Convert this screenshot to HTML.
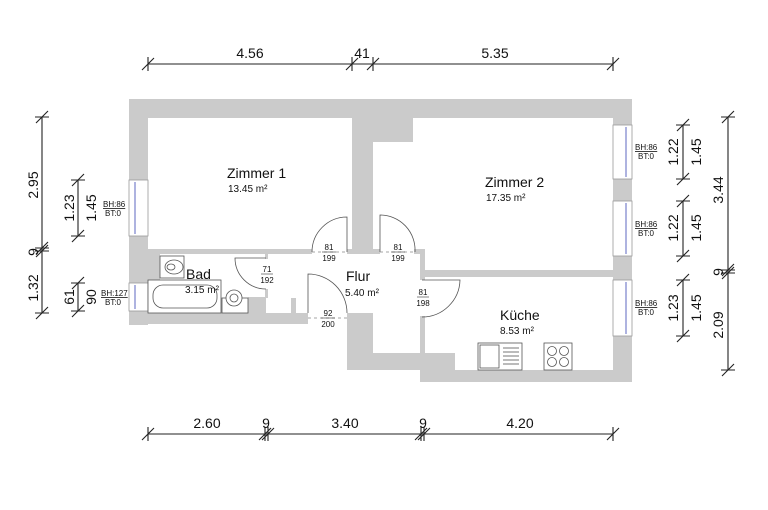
<!DOCTYPE html>
<html><head><meta charset="utf-8"><style>
html,body{margin:0;padding:0;background:#fff;}
svg{display:block}
text{font-family:"Liberation Sans",Arial,sans-serif;fill:#111}
</style></head><body>
<svg width="768" height="510" viewBox="0 0 768 510" xmlns="http://www.w3.org/2000/svg">
<!-- walls -->
<g fill="#cbcbcb" stroke="none">
<rect x="129" y="99" width="503" height="19"/>
<rect x="129" y="99" width="19" height="226"/>
<rect x="129" y="253" width="31" height="30"/>
<rect x="613" y="99" width="19" height="283"/>
<rect x="129" y="313" width="179" height="11"/>
<rect x="352" y="99" width="21" height="155"/>
<rect x="373" y="117" width="40" height="25"/>
<rect x="148" y="249" width="164" height="5"/>
<rect x="347" y="249" width="33" height="5"/>
<rect x="414" y="249" width="11" height="5"/>
<rect x="420" y="249" width="5" height="31"/>
<rect x="420" y="316" width="5" height="66"/>
<rect x="425" y="270" width="188" height="7"/>
<rect x="347" y="313" width="26" height="57"/>
<rect x="373" y="353" width="82" height="17"/>
<rect x="420" y="370" width="212" height="12"/>
<rect x="248" y="297" width="18" height="16"/>
<rect x="291" y="298" width="5" height="15"/>
<rect x="265" y="254" width="3" height="5"/>
<rect x="265" y="289" width="3" height="9"/>
</g>
<!-- windows -->
<g fill="#fff" stroke="#999" stroke-width="0.8">
<rect x="129" y="180" width="19" height="56"/>
<rect x="129" y="283" width="19" height="28"/>
<rect x="613" y="125" width="19" height="54"/>
<rect x="613" y="201" width="19" height="55"/>
<rect x="613" y="280" width="19" height="56"/>
</g>
<g stroke="#9aa0d8" stroke-width="1.6">
<line x1="135" y1="182" x2="135" y2="234"/>
<line x1="135" y1="285" x2="135" y2="309"/>
<line x1="626" y1="127" x2="626" y2="177"/>
<line x1="626" y1="203" x2="626" y2="254"/>
<line x1="626" y1="282" x2="626" y2="334"/>
</g>
<!-- doors -->
<g fill="none" stroke="#555" stroke-width="0.8">
<path d="M347 252 L347 217 A35 35 0 0 0 312 252"/>
<path d="M380 252 L380 215 A35 35 0 0 1 415 252"/>
<path d="M422 280 L460 280 A38 38 0 0 1 422 317"/>
<path d="M308 313 L308 274 A39 39 0 0 1 347 313"/>
<path d="M266 258 L235 258 A31 31 0 0 0 266 289"/>
</g>
<g stroke="#888" stroke-width="0.8" stroke-dasharray="3,3">
<line x1="312" y1="252" x2="347" y2="252"/>
<line x1="380" y1="252" x2="414" y2="252"/>
<line x1="308" y1="318" x2="347" y2="318"/>
</g>
<!-- fixtures -->
<g fill="#fff" stroke="#555" stroke-width="0.8">
<rect x="160" y="256" width="24" height="22"/>
<ellipse cx="174" cy="267" rx="9" ry="7"/>
<ellipse cx="171" cy="267" rx="4" ry="3"/>
<rect x="148" y="280" width="73" height="33"/>
<rect x="153" y="285" width="64" height="23" rx="10"/>
<rect x="222" y="298" width="26" height="15"/>
<circle cx="234" cy="298" r="8"/>
<circle cx="234" cy="298" r="4"/>
<rect x="478" y="343" width="44" height="27"/>
<rect x="480" y="345" width="19" height="23"/>
<rect x="544" y="343" width="28" height="27"/>
<circle cx="552" cy="351" r="4.5"/><circle cx="564" cy="351" r="4.5"/>
<circle cx="552" cy="362" r="4.5"/><circle cx="564" cy="362" r="4.5"/>
</g>
<g stroke="#555" stroke-width="0.8">
<line x1="503" y1="348" x2="519" y2="348"/><line x1="503" y1="352" x2="519" y2="352"/>
<line x1="503" y1="356" x2="519" y2="356"/><line x1="503" y1="360" x2="519" y2="360"/>
<line x1="503" y1="364" x2="519" y2="364"/>
</g>
<!-- room labels -->
<text x="227" y="178" font-size="14">Zimmer 1</text>
<text x="228" y="192" font-size="10">13.45 m²</text>
<text x="485" y="187" font-size="14">Zimmer 2</text>
<text x="486" y="201" font-size="10">17.35 m²</text>
<text x="186" y="279" font-size="14">Bad</text>
<text x="185" y="293" font-size="10">3.15 m²</text>
<text x="346" y="281" font-size="14">Flur</text>
<text x="345" y="296" font-size="10">5.40 m²</text>
<text x="500" y="320" font-size="14">Küche</text>
<text x="500" y="334" font-size="10">8.53 m²</text>
<!-- door labels -->
<g font-size="8" text-anchor="middle">
<text x="329" y="250">81</text><line x1="322" y1="252" x2="336" y2="252" stroke="#333" stroke-width="0.6"/><text x="329" y="261">199</text>
<text x="398" y="250">81</text><line x1="391" y1="252" x2="405" y2="252" stroke="#333" stroke-width="0.6"/><text x="398" y="261">199</text>
<text x="267" y="272">71</text><line x1="261" y1="274" x2="273" y2="274" stroke="#333" stroke-width="0.6"/><text x="267" y="283">192</text>
<text x="423" y="295">81</text><line x1="417" y1="297" x2="429" y2="297" stroke="#333" stroke-width="0.6"/><text x="423" y="306">198</text>
<text x="328" y="316">92</text><line x1="321" y1="318" x2="335" y2="318" stroke="#333" stroke-width="0.6"/><text x="328" y="327">200</text>
</g>
<g font-size="8">
<text x="103" y="207" text-decoration="underline">BH:86</text><text x="105" y="216">BT:0</text>
<text x="101" y="296" text-decoration="underline">BH:127</text><text x="105" y="305">BT:0</text>
<text x="635" y="150" text-decoration="underline">BH:86</text><text x="638" y="159">BT:0</text>
<text x="635" y="227" text-decoration="underline">BH:86</text><text x="638" y="236">BT:0</text>
<text x="635" y="306" text-decoration="underline">BH:86</text><text x="638" y="315">BT:0</text>
</g>
<!-- dimension lines -->
<g stroke="#222" stroke-width="1.1" fill="none">
<line x1="148" y1="64" x2="613" y2="64"/>
<path d="M148 57v14 M142 70l12-12 M352 57v14 M346 70l12-12 M373 57v14 M367 70l12-12 M613 57v14 M607 70l12-12"/>
<line x1="148" y1="434" x2="613" y2="434"/>
<path d="M148 427v14 M142 440l12-12 M265 427v14 M268 427v14 M259 440l12-12 M262 440l12-12 M421 427v14 M424 427v14 M415 440l12-12 M418 440l12-12 M613 427v14 M607 440l12-12"/>
<line x1="42" y1="117" x2="42" y2="313"/>
<path d="M35 117h14 M36 123l12-12 M35 248h14 M35 251h14 M36 254l12-12 M36 257l12-12 M35 313h14 M36 319l12-12"/>
<line x1="78" y1="180" x2="78" y2="236"/>
<path d="M71 180h14 M72 186l12-12 M71 236h14 M72 242l12-12"/>
<line x1="78" y1="283" x2="78" y2="311"/>
<path d="M71 283h14 M72 289l12-12 M71 311h14 M72 317l12-12"/>
<line x1="728" y1="117" x2="728" y2="370"/>
<path d="M721 117h14 M722 123l12-12 M721 270h14 M721 273h14 M722 276l12-12 M722 279l12-12 M721 370h14 M722 376l12-12"/>
<line x1="683" y1="125" x2="683" y2="179"/>
<path d="M676 125h14 M677 131l12-12 M676 179h14 M677 185l12-12"/>
<line x1="683" y1="201" x2="683" y2="256"/>
<path d="M676 201h14 M677 207l12-12 M676 256h14 M677 262l12-12"/>
<line x1="683" y1="280" x2="683" y2="336"/>
<path d="M676 280h14 M677 286l12-12 M676 336h14 M677 342l12-12"/>
</g>
<g font-size="14" text-anchor="middle">
<text x="250" y="58">4.56</text><text x="362" y="58">41</text><text x="495" y="58">5.35</text>
<text x="207" y="428">2.60</text><text x="266" y="428">9</text><text x="345" y="428">3.40</text><text x="423" y="428">9</text><text x="520" y="428">4.20</text>
<text transform="translate(38,185) rotate(-90)">2.95</text>
<text transform="translate(38,252) rotate(-90)">9</text>
<text transform="translate(38,288) rotate(-90)">1.32</text>
<text transform="translate(74,208) rotate(-90)">1.23</text>
<text transform="translate(96,208) rotate(-90)">1.45</text>
<text transform="translate(74,297) rotate(-90)">61</text>
<text transform="translate(96,297) rotate(-90)">90</text>
<text transform="translate(723,190) rotate(-90)">3.44</text>
<text transform="translate(723,272) rotate(-90)">9</text>
<text transform="translate(723,325) rotate(-90)">2.09</text>
<text transform="translate(678,152) rotate(-90)">1.22</text>
<text transform="translate(701,152) rotate(-90)">1.45</text>
<text transform="translate(678,228) rotate(-90)">1.22</text>
<text transform="translate(701,228) rotate(-90)">1.45</text>
<text transform="translate(678,308) rotate(-90)">1.23</text>
<text transform="translate(701,308) rotate(-90)">1.45</text>
</g>
</svg>
</body></html>
